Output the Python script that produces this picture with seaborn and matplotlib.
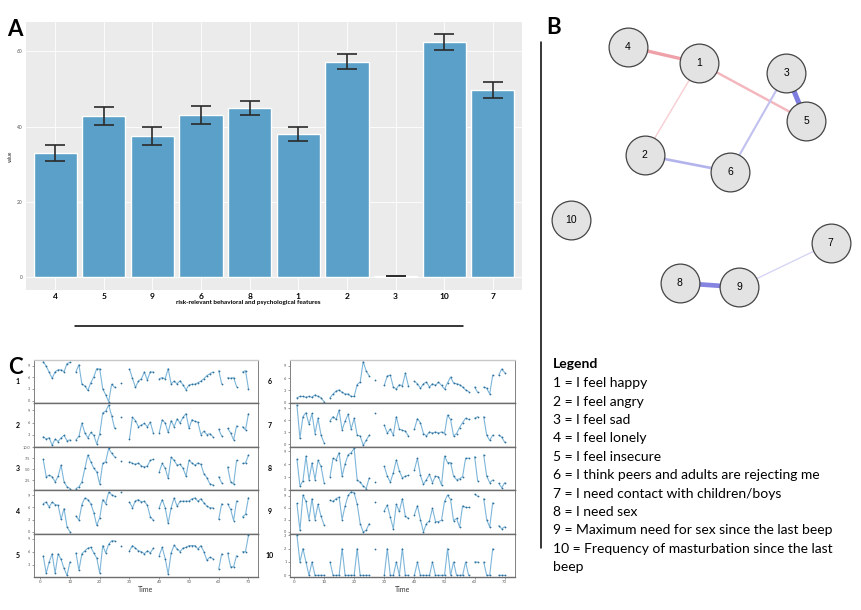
import numpy as np
import pandas as pd
import matplotlib
matplotlib.use('Agg')
import matplotlib.pyplot as plt
from matplotlib.lines import Line2D
from matplotlib.ticker import MaxNLocator
import seaborn as sns

W, H = 862, 610

# ─── Panel A: mean score per feature ──────────────────────────
features = ['4', '5', '9', '6', '8', '1', '2', '3', '10', '7']
means = [33.0, 42.8, 37.4, 43.1, 44.9, 38.0, 57.3, 0.35, 62.5, 49.7]
errs = [2.2, 2.3, 2.4, 2.4, 1.8, 1.85, 2.0, 0.1, 2.2, 2.2]
y_ticks = [0, 20, 40, 60]

# ─── Panel B: network ────────────────────────────────────────
node_ids = ['1', '2', '3', '4', '5', '6', '7', '8', '9', '10']
node_x = [-0.02, -0.38, 0.55, -0.49, 0.68, 0.18, 0.84, -0.15, 0.24, -0.86]
node_y = [0.76, 0.09, 0.69, 0.88, 0.34, -0.03, -0.55, -0.84, -0.87, -0.38]
edge_from = ['4', '1', '1', '3', '3', '2', '8', '9']
edge_to = ['1', '5', '2', '5', '6', '6', '9', '7']
edge_w = [0.30, 0.22, 0.13, -0.45, -0.19, -0.24, -0.42, -0.12]

# ─── Panel C: time series per item ───────────────────────────
beeps = np.arange(1, 71)
missing_beeps = [11, 26, 28, 29, 39, 59, 62, 67]
series = {
    '1': [10, 8.8, 7.3, 5.7, 7.4, 7.9, 7.9, 7.4, 9.5, 9.8,
          7.4, 9.2, 4.2, 3.8, 2.6, 4.6, 6.1, 8.2, 8.1, 3.0, 1.5, -0.3, 4.2, 3.4,
          4.6,
          8.1, 5.7, 3.4, 5.0, 5.6, 7.3, 5.3, 7.4, 7.3,
          5.6, 5.9, 5.6, 8.2, 4.3, 5.0, 4.3, 5.1, 4.0, 2.8, 4.0, 4.2, 4.2, 4.6, 5.0, 5.6, 6.4, 6.9, 7.3,
          7.7, 4.3,
          5.9, 5.7, 5.9, 3.6,
          7.3, 7.7, 3.0],
    '2': [2.6, 2.0, 2.3, 0.5, 2.0, 1.4, 2.3, 2.9, 1.6, 1.8,
          1.8, 2.7, 5.9, 3.5, 2.3, 3.6, 2.9, 0.8, 3.3, 8.4, 8.8, 10.3, 7.7, 4.6,
          7.4,
          2.1, 7.3, 6.5, 5.0, 5.4, 5.8, 5.0, 6.1, 3.5,
          3.5, 6.7, 5.9, 3.6, 6.5, 5.0, 6.9, 5.9, 7.3, 8.2, 4.6, 6.7, 6.3, 6.1, 3.1, 3.9, 3.1, 3.3, 2.6,
          4.4, 2.7,
          4.6, 3.5, 1.8, 5.2,
          5.0, 4.2, 8.2],
    '3': [7.2, 3.3, 3.6, 3.3, 2.1, 3.4, 5.9, 2.1, 1.0, 0.6,
          0.6, 1.0, 2.1, 5.2, 8.2, 6.7, 5.2, 4.4, 1.6, 6.3, 6.7, 9.7, 8.6, 7.8,
          6.9,
          6.7, 6.3, 6.1, 6.4, 5.7, 5.5, 5.7, 7.0, 7.2,
          4.4, 6.3, 5.2, 2.9, 7.7, 7.0, 5.9, 6.1, 5.2, 3.4, 7.0, 6.4, 5.9, 6.4, 6.1, 4.0, 3.1, 1.7, 1.4,
          3.3, 1.9,
          5.5, 2.1, 1.6, 7.0,
          6.3, 6.4, 8.2],
    '4': [6.9, 7.3, 6.1, 7.3, 6.7, 6.5, 3.1, 5.7, 1.3, 0.0,
          3.9, 2.9, 6.7, 8.3, 7.9, 6.9, 4.7, 1.6, 3.5, 7.9, 6.9, 9.7, 9.1, 8.7,
          9.8,
          7.3, 5.9, 7.6, 7.9, 7.3, 7.5, 6.5, 3.7, 2.9,
          5.9, 7.9, 5.9, 2.1, 5.9, 8.3, 6.3, 7.5, 7.5, 7.5, 7.5, 8.1, 8.3, 7.5, 8.1, 7.1, 6.3, 5.9, 5.9,
          3.1, 6.9,
          6.9, 5.5, 2.8, 7.6,
          3.7, 4.3, 8.4],
    '5': [5.0, 1.0, 3.6, 5.5, 1.0, 5.5, 4.2, 2.1, 0.5, 3.6,
          5.7, 1.7, 5.5, 6.2, 6.8, 7.0, 5.7, 4.5, 1.0, 7.4, 5.7, 7.7, 8.5, 8.5,
          7.4,
          6.2, 7.4, 6.8, 6.2, 6.0, 5.5, 6.2, 5.7, 6.8,
          5.1, 7.0, 4.4, 0.8, 5.7, 7.5, 6.6, 6.0, 6.8, 7.0, 7.4, 7.4, 7.4, 6.6, 7.4, 6.0, 4.0, 4.7, 4.4,
          2.0, 5.5,
          5.7, 2.5, 2.5, 5.1,
          6.0, 6.0, 9.8],
    '6': [1.2, 1.5, 1.5, 1.3, 1.5, 1.3, 1.9, 1.5, 1.2, 0.2,
          1.2, 2.1, 2.8, 3.1, 2.5, 2.1, 2.1, 1.5, 1.5, 4.4, 5.0, 10.0, 7.7, 6.5,
          5.6,
          4.2, 6.5, 6.7, 3.8, 3.3, 4.4, 4.1, 7.2, 4.1,
          5.2, 4.6, 3.5, 4.6, 5.0, 3.8, 4.6, 4.2, 5.0, 4.2, 3.3, 4.8, 6.2, 4.8, 4.6, 4.4, 3.8, 3.1, 2.7,
          3.8, 2.5,
          3.8, 3.5, 2.1, 6.7,
          6.7, 8.2, 7.3],
    '7': [9.8, 1.5, 6.9, 7.9, 5.0, 7.7, 2.7, 6.5, 2.3, 0.4,
          5.9, 6.9, 6.2, 8.5, 3.6, 5.8, 7.5, 3.8, 6.5, 2.3, 2.1, -0.2, 1.0, 2.3,
          7.9,
          4.8, 2.8, 3.8, 2.3, 6.9, 3.8, 3.5, 3.3, 2.1,
          3.8, 6.4, 5.4, 2.7, 2.1, 3.1, 2.8, 3.1, 2.8, 3.1, 2.7, 7.3, 6.2, 2.1, 2.7, 4.2, 5.4, 6.5, 6.2,
          6.5, 6.9,
          6.9, 2.3, 1.0, 2.3,
          2.3, 1.8, 0.5],
    '8': [7.2, 0.9, 2.1, 7.9, 2.4, 6.3, 2.4, 6.9, 5.5, 1.7,
          3.1, 7.4, 7.0, 8.7, 3.2, 6.1, 8.2, 8.7, 9.7, 2.3, 1.8, 0.9, 0.3, 2.8,
          1.8,
          5.5, 3.2, 1.8, 4.0, 7.0, 4.4, 2.8, 3.2, 3.4,
          4.7, 7.4, 3.4, 1.3, 2.4, 3.6, 1.7, 3.2, 3.1, 1.1, 7.9, 6.4, 6.4, 3.2, 2.4, 2.6, 3.1, 7.4, 7.4,
          7.8, 2.1,
          8.2, 3.2, 1.7, 2.3,
          1.5, 0.5, 1.7],
    '9': [7.1, 0.4, 9.2, 7.6, 3.1, 8.3, 3.1, 6.9, 3.9, 1.8,
          7.9, 7.6, 8.3, 8.7, 3.1, 6.5, 9.1, 10.0, 9.8, 6.9, 2.1, 0.0, 0.4, 2.1,
          7.5,
          5.3, 6.7, 3.7, 0.8, 6.9, 5.1, 8.3, 3.9, 3.4,
          4.3, 6.5, 3.1, 0.0, 2.1, 2.8, 5.9, 2.6, 2.6, 2.9, 7.6, 9.2, 8.1, 2.8, 3.4, 1.2, 6.5, 6.1, 6.1,
          9.4, 8.9,
          8.3, 3.1, 1.2, 7.3,
          1.6, 0.8, 1.3],
    '10': [3, 1, 2, 1, 0, 1, 0, 0, 0, 0,
           1, 0, 0, 0, 2, 0, 0, 0, 0, 2, 0, 0, 0, 0,
           2,
           0, 2, 0, 0, 1, 0, 2, 0, 0,
           0, 1, 0, 0, 0, 0, 1, 0, 0, 0, 0, 2, 0, 1, 0, 0, 0, 1, 0,
           1, 1,
           1, 0, 0, 2,
           0, 0, 0],
}
time_ticks = [0, 10, 20, 30, 40, 50, 60, 70]

legend_lines = [
    '1 = I feel happy',
    '2 = I feel angry',
    '3 = I feel sad',
    '4 = I feel lonely',
    '5 = I feel insecure',
    '6 = I think peers and adults are rejecting me',
    '7 = I need contact with children/boys',
    '8 = I need sex',
    '9 = Maximum need for sex since the last beep',
    '10 = Frequency of masturbation since the last',
    'beep',
]


def rect(l, t, r, b):
    return [l / W, 1 - b / H, (r - l) / W, (b - t) / H]


def fx(px):
    return px / W


def fy(py):
    return 1 - py / H


sns.set_theme(style='white')
plt.rcParams['font.family'] = ['Lato', 'DejaVu Sans']
plt.rcParams['text.color'] = 'black'

fig = plt.figure(figsize=(W / 100, H / 100), dpi=100)
fig.patch.set_facecolor('white')

# ─── A ───────────────────────────────────────────────────────
axA = fig.add_axes(rect(26, 22, 522, 290))
dfA = pd.DataFrame({'feature': features, 'value': means})
sns.barplot(data=dfA, x='feature', y='value', order=features, color='#5ba0c8',
            saturation=1, width=0.89, errorbar=None, ax=axA, zorder=2)
axA.errorbar(np.arange(len(features)), means, yerr=errs, fmt='none',
             ecolor='#2a2a2a', elinewidth=1.2, capsize=7, capthick=1.2, zorder=3)
axA.set_facecolor('#ebebeb')
axA.set_xlim(-0.6, 9.6)
axA.set_ylim(-3.4, 67.8)
axA.set_yticks(y_ticks)
axA.grid(True, color='white', lw=0.6, zorder=0)
axA.set_axisbelow(True)
for s in axA.spines.values():
    s.set_visible(False)
axA.tick_params(axis='y', labelsize=3.5, colors='#555', length=1.5, pad=1)
axA.tick_params(axis='x', labelsize=6, length=0, pad=2, labelcolor='black')
for lab in axA.get_xticklabels():
    lab.set_fontweight('bold')
axA.set_xlabel('')
axA.set_ylabel('value', fontsize=3.5, labelpad=3, color='#222')
fig.text(fx(248), fy(302), 'risk-relevant behavioral and psychological features',
         fontsize=4.6, fontweight='bold', ha='center', va='center')

# ─── B ───────────────────────────────────────────────────────
axB = fig.add_axes(rect(550, 30, 855, 305))
axB.set_xlim(-1, 1)
axB.set_ylim(-1, 1)
axB.axis('off')
pos = {n: (x, y) for n, x, y in zip(node_ids, node_x, node_y)}
for a, b, w in zip(edge_from, edge_to, edge_w):
    base = np.array([0.90, 0.40, 0.45]) if w > 0 else np.array([0.42, 0.42, 0.86])
    k = min(abs(w) / 0.45, 1.0) * 0.8 + 0.08
    col = 1 - k * (1 - base)
    axB.plot([pos[a][0], pos[b][0]], [pos[a][1], pos[b][1]], color=col,
             lw=abs(w) * 8, solid_capstyle='butt', zorder=1, clip_on=False)
axB.scatter(node_x, node_y, s=780, color='#e3e3e3', edgecolor='#444444',
            linewidth=0.9, zorder=2, clip_on=False)
for n, x, y in zip(node_ids, node_x, node_y):
    axB.text(x, y, n, fontsize=7.5, ha='center', va='center', zorder=3,
             family=['Liberation Sans', 'DejaVu Sans'])

# ─── C ───────────────────────────────────────────────────────
line_c = '#7eb6d9'
dot_c = '#2f6f99'


def draw_ts(left, right, keys, xlim, label_x):
    top, bottom = 360, 577
    n = len(keys)
    hrow = (bottom - top) / n
    for i, key in enumerate(keys):
        ax = fig.add_axes(rect(left, top + i * hrow, right, top + (i + 1) * hrow))
        obs = [t for t in beeps if t not in missing_beeps]
        s = pd.Series(series[key], index=obs).reindex(beeps)
        ax.plot(beeps, s.values, color=line_c, lw=0.8, zorder=2)
        ax.plot(beeps, s.values, 'o', ms=1.3, color=dot_c, mec='none', zorder=3)
        lo, hi = np.nanmin(s.values), np.nanmax(s.values)
        pad = (hi - lo) * 0.04
        ax.set_ylim(lo - pad, hi + pad)
        ax.set_xlim(*xlim)
        ax.set_facecolor('white')
        for side, sp in ax.spines.items():
            sp.set_color('#6d6d6d')
            sp.set_linewidth(0.6 if side in ('left', 'right') else 1.0)
        if i == 0:
            ax.spines['top'].set_color('#c8c8c8')
        ax.yaxis.set_major_locator(MaxNLocator(nbins=4, prune='upper'))
        ax.tick_params(axis='y', labelsize=2.8, length=1.5, width=0.4,
                       colors='#555', pad=1, left=True)
        ax.set_xticks(time_ticks)
        if i == n - 1:
            ax.tick_params(axis='x', labelsize=3.2, length=1.5, width=0.4,
                           colors='#555', pad=1, bottom=True)
            ax.set_xlabel('Time', fontsize=5, labelpad=1, color='#333')
        else:
            ax.tick_params(axis='x', labelbottom=False, length=0)
        fig.text(fx(label_x), fy(top + (i + 0.5) * hrow), key, fontsize=5,
                 fontweight='bold', ha='center', va='center')


draw_ts(34, 258, ['1', '2', '3', '4', '5'], (-2.1, 73.2), 18)
draw_ts(290, 515, ['6', '7', '8', '9', '10'], (-1.3, 73.4), 270)

# ─── Legend text ─────────────────────────────────────────────
fig.text(fx(553), fy(364), 'Legend', fontsize=10, fontweight='bold',
         ha='left', va='center')
for i, line in enumerate(legend_lines):
    fig.text(fx(553), fy(383.3 + i * 18.4), line, fontsize=10,
             ha='left', va='center')

# ─── Panel letters and rules ─────────────────────────────────
fig.text(fx(7), fy(29), 'A', fontsize=16, fontweight='bold', ha='left', va='center')
fig.text(fx(546), fy(28), 'B', fontsize=16, fontweight='bold', ha='left', va='center')
fig.text(fx(8), fy(368), 'C', fontsize=16, fontweight='bold', ha='left', va='center')
fig.add_artist(Line2D([fx(541), fx(541)], [fy(42), fy(548)], color='black', lw=1.1))
fig.add_artist(Line2D([fx(75), fx(463)], [fy(326), fy(326)], color='black', lw=1.1))

fig.savefig('out.png', dpi=100)
